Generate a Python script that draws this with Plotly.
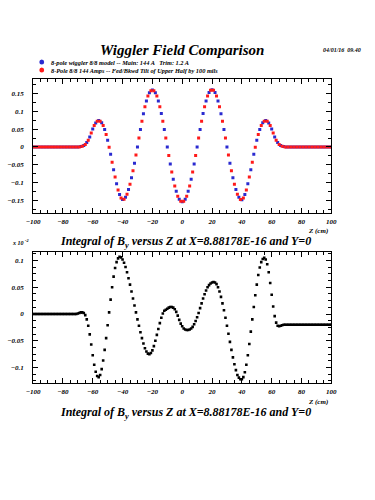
import plotly.graph_objects as go

# ---------------- data ----------------
z_even = list(range(-100, 101, 2))
field_blue = ([0.0] * 15 +
    [0.000, 0.001, 0.004, 0.012, 0.028, 0.050, 0.067, 0.074, 0.068, 0.049,
     0.019, -0.021, -0.064, -0.104, -0.134, -0.148, -0.142, -0.120, -0.087, -0.046,
     0.000, 0.049, 0.093, 0.129, 0.152, 0.160, 0.152, 0.129, 0.094, 0.049,
     0.000, -0.048, -0.091, -0.125, -0.147, -0.154, -0.147, -0.125, -0.091, -0.048,
     0.000, 0.049, 0.094, 0.129, 0.153, 0.161, 0.153, 0.129, 0.093, 0.049,
     0.000, -0.046, -0.087, -0.120, -0.142, -0.149, -0.134, -0.104, -0.064, -0.021,
     0.019, 0.049, 0.068, 0.074, 0.067, 0.050, 0.028, 0.012, 0.004, 0.001, 0.000] +
    [0.0] * 15)

z_odd = list(range(-99, 100, 2))
field_red = ([0.0] * 15 +
    [0.000, 0.002, 0.007, 0.019, 0.039, 0.060, 0.072, 0.072, 0.060, 0.035,
     -0.001, -0.043, -0.085, -0.121, -0.144, -0.147, -0.133, -0.105, -0.067, -0.023,
     0.025, 0.072, 0.113, 0.143, 0.158, 0.158, 0.143, 0.113, 0.072, 0.025,
     -0.024, -0.071, -0.110, -0.139, -0.153, -0.153, -0.139, -0.110, -0.071, -0.024,
     0.025, 0.072, 0.113, 0.143, 0.159, 0.159, 0.143, 0.113, 0.072, 0.025,
     -0.023, -0.067, -0.105, -0.133, -0.148, -0.144, -0.121, -0.085, -0.043, -0.001,
     0.035, 0.060, 0.072, 0.072, 0.060, 0.039, 0.019, 0.007, 0.002, 0.000] +
    [0.0] * 15)

z_int = list(range(-100, 101, 1))
integral = ([0.0] * 30 +
    [0.001, 0.002, 0.003, 0.003, 0.002, -0.002, -0.010, -0.022, -0.038, -0.057,
     -0.077, -0.095, -0.108, -0.116, -0.118, -0.114, -0.103, -0.087, -0.067, -0.045,
     -0.021, 0.003, 0.027, 0.050, 0.070, 0.086, 0.097, 0.104, 0.107, 0.106,
     0.102, 0.096, 0.088, 0.078, 0.067, 0.055, 0.042, 0.029, 0.016, 0.003,
     -0.010, -0.022, -0.034, -0.045, -0.055, -0.064, -0.070, -0.074, -0.075, -0.073,
     -0.068, -0.060, -0.050, -0.039, -0.028, -0.017, -0.007, 0.001, 0.006, 0.008,
     0.010, 0.012, 0.013, 0.013, 0.012, 0.009, 0.004, -0.003, -0.011, -0.018,
     -0.023, -0.027, -0.029, -0.030, -0.030, -0.029, -0.027, -0.024, -0.019, -0.013,
     -0.006, 0.002, 0.011, 0.020, 0.029, 0.037, 0.044, 0.050, 0.054, 0.057,
     0.059, 0.060, 0.059, 0.056, 0.050, 0.042, 0.032, 0.020, 0.007, -0.007,
     -0.022, -0.037, -0.052, -0.067, -0.081, -0.094, -0.105, -0.114, -0.119, -0.122,
     -0.122, -0.118, -0.109, -0.095, -0.077, -0.056, -0.033, -0.010, 0.013, 0.035,
     0.055, 0.073, 0.087, 0.097, 0.103, 0.105, 0.102, 0.093, 0.078, 0.058,
     0.036, 0.014, -0.004, -0.016, -0.022, -0.023, -0.022, -0.021] +
    [-0.020] * 33)

x_ticks = [-100, -80, -60, -40, -20, 0, 20, 40, 60, 80, 100]
y1_ticks = [-0.15, -0.1, -0.05, 0, 0.05, 0.1, 0.15]
y2_ticks = [-0.1, -0.05, 0, 0.05, 0.1]

legend1 = "8-pole wiggler 8/8 model -- Main: 144 A   Trim: 1.2 A"
legend2 = "8-Pole 8/8 144 Amps -- Fed/Bkwd Tilt of Upper Half by 100 mils"
title = "Wiggler Field Comparison"
subtitle = "Integral of B<sub>y</sub> versus Z at X=8.88178E-16 and Y=0"
date_txt = "04/01/16  09.40"

# ---------------- figure ----------------
W, H = 375, 500
SERIF = "Liberation Serif"

def px(x):
    return x / W

def py(y):
    return 1 - y / H

fig = go.Figure()
fig.add_trace(go.Scatter(x=z_even, y=field_blue, mode="markers", name=legend1,
                         marker=dict(symbol="square", size=3, color="#2a2ad0"),
                         xaxis="x", yaxis="y"))
fig.add_trace(go.Scatter(x=z_odd, y=field_red, mode="markers", name=legend2,
                         marker=dict(symbol="square", size=3, color="#ff1a1a"),
                         xaxis="x", yaxis="y"))
fig.add_trace(go.Scatter(x=z_int, y=integral, mode="markers", name="integral",
                         marker=dict(symbol="square", size=2.6, color="black"),
                         xaxis="x2", yaxis="y2"))

tickfont = dict(family=SERIF, size=7, color="black", weight="bold", style="italic")
axis_common = dict(showline=True, linecolor="black", linewidth=1, mirror="allticks",
                   ticks="inside", ticklen=5, tickcolor="black", showgrid=False,
                   zeroline=False, tickfont=tickfont)

fig.update_layout(
    width=W, height=H, margin=dict(l=0, r=0, t=0, b=0),
    paper_bgcolor="white", plot_bgcolor="white", showlegend=False,
    xaxis=dict(domain=[px(27), px(336)], anchor="y", range=[-100, 100],
               tickvals=x_ticks, minor=dict(dtick=5, ticks="inside", ticklen=3, tickcolor="black"),
               ticklabelstandoff=2, **axis_common),
    yaxis=dict(domain=[py(213), py(79)], anchor="x", range=[-0.186, 0.191],
               tickvals=y1_ticks, minor=dict(dtick=0.025, tick0=0, ticks="inside", ticklen=3, tickcolor="black"),
               ticklabelstandoff=7, **axis_common),
    xaxis2=dict(domain=[px(27), px(336)], anchor="y2", range=[-100, 100],
                tickvals=x_ticks, minor=dict(dtick=5, ticks="inside", ticklen=3, tickcolor="black"),
                ticklabelstandoff=2, **axis_common),
    yaxis2=dict(domain=[py(383), py(252)], anchor="x2", range=[-0.129, 0.116],
                tickvals=y2_ticks, minor=dict(dtick=0.0125, tick0=0, ticks="inside", ticklen=3, tickcolor="black"),
                ticklabelstandoff=7, **axis_common),
)

ann_font = lambda s: dict(family=SERIF, size=s, color="black", weight="bold", style="italic")
annotations = [
    dict(text=title, x=px(181), y=py(50), font=ann_font(15)),
    dict(text=date_txt, x=px(347), y=py(50), font=ann_font(6)),
    dict(text=legend1, x=px(44), y=py(62), xanchor="left", font=ann_font(6.3)),
    dict(text=legend2, x=px(44), y=py(70), xanchor="left", font=ann_font(6.3)),
    dict(text="Z (cm)", x=px(322), y=py(231), font=ann_font(7)),
    dict(text=subtitle, x=px(185), y=py(242), font=ann_font(12)),
    dict(text="x 10 <sup>-2</sup>", x=px(14), y=py(242), font=ann_font(6)),
    dict(text="Z (cm)", x=px(322), y=py(402), font=ann_font(7)),
    dict(text=subtitle, x=px(185), y=py(413), font=ann_font(12)),
]
for a in annotations:
    a.setdefault("xanchor", "center")
    a.update(xref="paper", yref="paper", showarrow=False, yanchor="middle")
fig.update_layout(annotations=annotations)

fig.update_layout(shapes=[
    dict(type="circle", xref="paper", yref="paper", x0=px(33.5), x1=px(38.5),
         y0=py(64.5), y1=py(59.5), fillcolor="#2a2ad0", line=dict(width=0)),
    dict(type="circle", xref="paper", yref="paper", x0=px(33.5), x1=px(38.5),
         y0=py(72.5), y1=py(67.5), fillcolor="#ff1a1a", line=dict(width=0)),
])

fig.write_html("out.html", config={"displayModeBar": False},
               post_script="document.body.style.margin='0';document.body.style.overflow='hidden';")
